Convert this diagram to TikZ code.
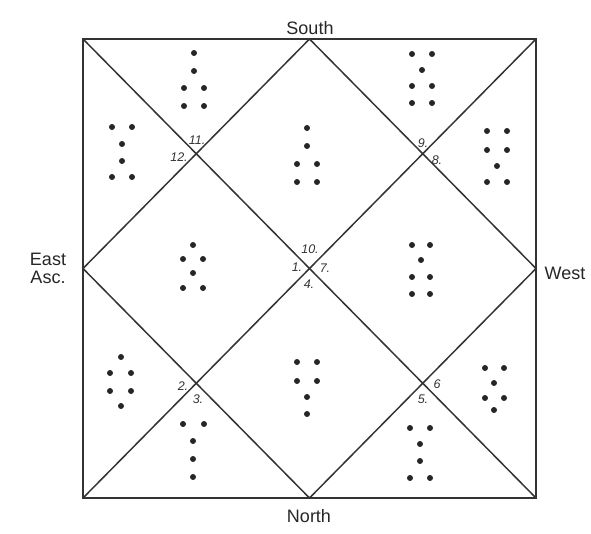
\documentclass[tikz,border=0pt]{standalone}
\usepackage{fontspec}
\setmainfont{Liberation Sans}
\usetikzlibrary{calc}
\tikzset{
    chart diagram/.style = {x=1pt, y=-1pt},
    frame/.style         = {draw=black!80, line width=1.5pt, line join=miter},
    pip/.style           = {fill=black!85},
    quarter/.style       = {font=\fontsize{18}{18}\selectfont, text=black!85},
    house/.style         = {font=\fontsize{12.5}{12.5}\selectfont\itshape, text=black!80,
                            inner sep=0pt}
}
\begin{document}
\begin{tikzpicture}[chart diagram]
\useasboundingbox (0,0) rectangle (591,533);

% ================= Square and corners =================
\coordinate (nw) at (83, 39);
\coordinate (ne) at (536, 39);
\coordinate (se) at (536, 498);
\coordinate (sw) at (83, 498);
\coordinate (top mid) at ($(nw)!0.5!(ne)$);
\coordinate (right mid) at ($(ne)!0.5!(se)$);
\coordinate (bottom mid) at ($(sw)!0.5!(se)$);
\coordinate (left mid) at ($(nw)!0.5!(sw)$);
\draw[frame] (nw) rectangle (se);

% ================= Diagonals and diamond =================
\draw[frame] (nw) -- (se);
\draw[frame] (ne) -- (sw);
\draw[frame] (top mid) -- (right mid) -- (bottom mid) -- (left mid) -- cycle;

% ================= Quarters =================
\node[quarter] (south) at (310, 28) {South};
\node[quarter] (north) at (309, 516) {North};
\node[quarter, align=center] (east) at (48, 268) {East\\Asc.};
\node[quarter] (west) at (565, 273) {West};

% ================= House numbers =================
\node[house] (h11) at (197, 140) {11.};
\node[house] (h12) at (179, 157) {12.};
\node[house] (h9)  at (423, 143) {9.};
\node[house] (h8)  at (437, 160) {8.};
\node[house] (h10) at (310, 249) {10.};
\node[house] (h1)  at (297, 267) {1.};
\node[house] (h7)  at (325, 268) {7.};
\node[house] (h4)  at (309, 284) {4.};
\node[house] (h2)  at (183, 386) {2.};
\node[house] (h3)  at (198, 399) {3.};
\node[house] (h6)  at (437, 384) {6};
\node[house] (h5)  at (423, 399) {5.};

% ================= Figures, upper corners =================
\foreach \p in {(194,53),(194,71),(184,88),(204,88),(184,106),(204,106)}
    \fill[pip] \p circle (3pt);
\foreach \p in {(112,127),(132,127),(122,144),(122,161),(112,177),(132,177)}
    \fill[pip] \p circle (3pt);
\foreach \p in {(412,54),(432,54),(422,70),(412,86),(432,86),(412,103),(432,103)}
    \fill[pip] \p circle (3pt);
\foreach \p in {(487,131),(507,131),(487,150),(507,150),(497,166),(487,182),(507,182)}
    \fill[pip] \p circle (3pt);

% ================= Figures, diamond =================
\foreach \p in {(307,128),(307,146),(297,164),(317,164),(297,182),(317,182)}
    \fill[pip] \p circle (3pt);
\foreach \p in {(193,245),(183,259),(203,259),(193,273),(183,288),(203,288)}
    \fill[pip] \p circle (3pt);
\foreach \p in {(412,245),(430,245),(421,260),(412,277),(430,277),(412,294),(430,294)}
    \fill[pip] \p circle (3pt);
\foreach \p in {(297,362),(317,362),(297,381),(317,381),(307,397),(307,414)}
    \fill[pip] \p circle (3pt);

% ================= Figures, lower corners =================
\foreach \p in {(121,357),(110,373),(131,373),(110,391),(131,391),(121,406)}
    \fill[pip] \p circle (3pt);
\foreach \p in {(183,424),(204,424),(193,441),(193,459),(193,477)}
    \fill[pip] \p circle (3pt);
\foreach \p in {(485,368),(504,368),(494,383),(485,398),(504,398),(494,410)}
    \fill[pip] \p circle (3pt);
\foreach \p in {(410,428),(430,428),(420,444),(420,461),(410,478),(430,478)}
    \fill[pip] \p circle (3pt);

\end{tikzpicture}
\end{document}
